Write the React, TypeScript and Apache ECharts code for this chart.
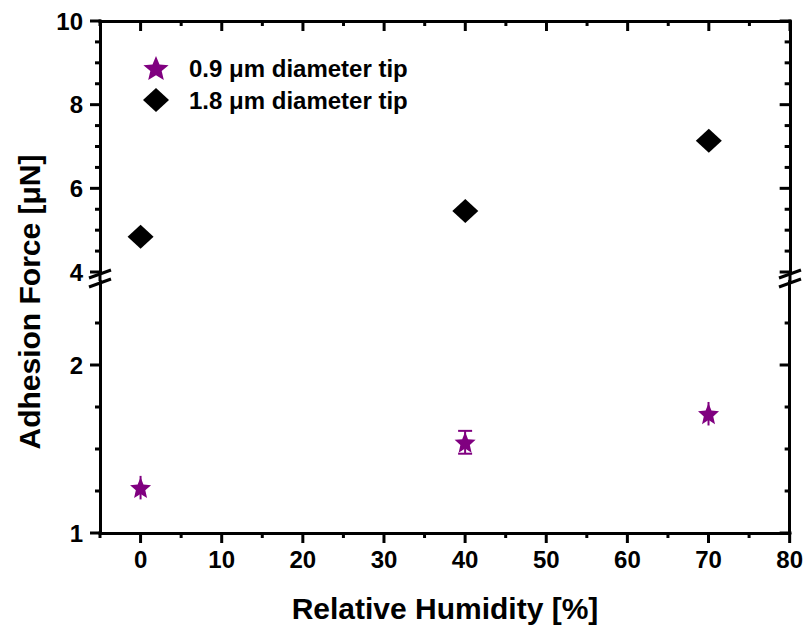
import React, { useEffect, useRef } from "react";
import * as echarts from "echarts";

// ---------- data ----------
const humidity = [0, 40, 70];
const tip09Force = [1.27, 1.54, 1.71];
const tip09Err = [0.07, 0.068, 0.07];
const tip09Capped = [false, true, false];
const tip18Force = [4.84, 5.46, 7.14];

const xMajorTicks = [0, 10, 20, 30, 40, 50, 60, 70, 80];
const xMinorTicks = [-5, 5, 15, 25, 35, 45, 55, 65, 75];
const upperMajorTicks = [4, 6, 8, 10];
const upperMinorTicks = [4.5, 5, 5.5, 6.5, 7, 7.5, 8.5, 9, 9.5];
const lowerMajorTicks = [1, 2];
const lowerMinorTicks = [1.25, 1.5, 1.75, 2.25];

const seriesNames = ["0.9 μm diameter tip", "1.8 μm diameter tip"];
const xTitle = "Relative Humidity [%]";
const yTitle = "Adhesion Force [μN]";

// ---------- styles ----------
const FONT = "'Liberation Sans', Arial, Helvetica, sans-serif";
const PURPLE = "#800080";
const STAR =
  "path://M0,-1L0.2645,-0.364L0.951,-0.309L0.428,0.139L0.588,0.809L0,0.45L-0.588,0.809L-0.428,0.139L-0.951,-0.309L-0.2645,-0.364Z";

const MAJOR_LEN = 10;
const MINOR_LEN = 5;

const label = () => ({
  color: "#000",
  fontFamily: FONT,
  fontWeight: "bold" as const,
  fontSize: 24,
});

const X_RANGE = [-5, 80];
const UPPER_RANGE = [4, 10];
const LOWER_RANGE = [1, 2.5];

function axisDef(
  gridIndex: number,
  position: string,
  range: number[],
  labels: number[] | null,
  margin: number
) {
  return {
    type: "value",
    gridIndex,
    position,
    min: range[0],
    max: range[1],
    axisLine: { show: true, onZero: false, lineStyle: { color: "#000", width: 3 } },
    axisTick: { show: false },
    axisLabel: labels
      ? { show: true, customValues: labels, margin, ...label() }
      : { show: false },
    splitLine: { show: false },
  };
}

const staticGraphic: any[] = [
  // axis line through the break gap
  { id: "gapL", type: "line", shape: { x1: 100, y1: 272, x2: 100, y2: 281 }, style: { stroke: "#000", lineWidth: 3 } },
  { id: "gapR", type: "line", shape: { x1: 790, y1: 272, x2: 790, y2: 281 }, style: { stroke: "#000", lineWidth: 3 } },
  // frame corners
  ...[
    [100, 21],
    [790, 21],
    [100, 533],
    [790, 533],
  ].map(([cx, cy], i) => ({
    id: "corner" + i,
    type: "rect",
    shape: { x: cx - 1.5, y: cy - 1.5, width: 3, height: 3 },
    style: { fill: "#000" },
    z: 10,
  })),
  // break marks
  ...[100, 790].flatMap((cx) =>
    [274, 283].map((y0) => ({
      id: "brk" + cx + "_" + y0,
      type: "line",
      shape: { x1: cx - 11, y1: y0 + 4, x2: cx + 11, y2: y0 - 4 },
      style: { stroke: "#000", lineWidth: 3 },
      z: 10,
    }))
  ),
  {
    id: "ytitle",
    type: "text",
    x: 29,
    y: 302,
    rotation: Math.PI / 2,
    style: {
      text: yTitle,
      fontFamily: FONT,
      fontWeight: "bold",
      fontSize: 30,
      fill: "#000",
      align: "center",
      verticalAlign: "middle",
    },
  },
  {
    id: "xtitle",
    type: "text",
    x: 445,
    y: 608,
    style: {
      text: xTitle,
      fontFamily: FONT,
      fontWeight: "bold",
      fontSize: 30,
      fill: "#000",
      align: "center",
      verticalAlign: "middle",
    },
  },
];

const option: any = {
  animation: false,
  backgroundColor: "#fff",
  grid: [
    { left: 100, right: 16, top: 21, height: 251 },
    { left: 100, right: 16, top: 281, height: 252 },
  ],
  legend: {
    orient: "vertical",
    left: 138,
    top: 51,
    itemWidth: 26,
    itemHeight: 24,
    itemGap: 8,
    data: seriesNames,
    textStyle: { ...label(), padding: [0, 0, 0, 15] },
  },
  xAxis: [
    axisDef(0, "top", X_RANGE, null, 0), // 0 upper grid
    axisDef(1, "bottom", X_RANGE, xMajorTicks, 14), // 1 lower grid
  ],
  yAxis: [
    axisDef(0, "left", UPPER_RANGE, upperMajorTicks, 17), // 0 upper
    axisDef(1, "left", LOWER_RANGE, lowerMajorTicks, 17), // 1 lower
    axisDef(0, "right", UPPER_RANGE, null, 0), // 2
    axisDef(1, "right", LOWER_RANGE, null, 0), // 3
  ],
  series: [
    {
      type: "custom",
      name: "errorbars",
      xAxisIndex: 1,
      yAxisIndex: 1,
      z: 1,
      data: humidity.map((x, i) => [
        x,
        tip09Force[i] - tip09Err[i],
        tip09Force[i] + tip09Err[i],
        tip09Capped[i] ? 1 : 0,
      ]),
      encode: { x: 0, y: [1, 2] },
      renderItem: (_params: any, api: any) => {
        const x = api.value(0);
        const lo = api.coord([x, api.value(1)]);
        const hi = api.coord([x, api.value(2)]);
        const capped = api.value(3);
        const w = 7;
        const children: any[] = [
          {
            type: "line",
            shape: { x1: lo[0], y1: lo[1], x2: hi[0], y2: hi[1] },
            style: { stroke: PURPLE, lineWidth: 2 },
          },
        ];
        if (capped) {
          children.push(
            {
              type: "line",
              shape: { x1: lo[0] - w, y1: lo[1], x2: lo[0] + w, y2: lo[1] },
              style: { stroke: PURPLE, lineWidth: 2 },
            },
            {
              type: "line",
              shape: { x1: hi[0] - w, y1: hi[1], x2: hi[0] + w, y2: hi[1] },
              style: { stroke: PURPLE, lineWidth: 2 },
            }
          );
        }
        return { type: "group", children };
      },
    },
    {
      type: "scatter",
      name: seriesNames[0],
      xAxisIndex: 1,
      yAxisIndex: 1,
      z: 3,
      symbol: STAR,
      symbolKeepAspect: true,
      symbolSize: [21, 22],
      itemStyle: { color: PURPLE, opacity: 1 },
      data: humidity.map((x, i) => [x, tip09Force[i]]),
    },
    {
      type: "scatter",
      name: seriesNames[1],
      xAxisIndex: 0,
      yAxisIndex: 0,
      z: 3,
      symbol: "diamond",
      symbolSize: [26, 24],
      itemStyle: { color: "#000", opacity: 1 },
      data: humidity.map((x, i) => [x, tip18Force[i]]),
    },
  ],
  graphic: staticGraphic,
};

// Tick marks placed through the axes' own scales (convertToPixel).
function buildTicks(chart: echarts.ECharts): any[] {
  const px = (finder: any, v: number) => {
    const r = chart.convertToPixel(finder, v) as any;
    return typeof r === "number" ? r : Number(r);
  };
  const els: any[] = [];
  const seg = (x1: number, y1: number, x2: number, y2: number) => {
    if ([x1, y1, x2, y2].some((n) => !isFinite(n))) return;
    els.push({
      id: "tick" + els.length,
      type: "line",
      shape: { x1, y1, x2, y2 },
      style: { stroke: "#000", lineWidth: 3 },
      z: 10,
    });
  };

  const left = px({ xAxisIndex: 1 }, X_RANGE[0]);
  const right = px({ xAxisIndex: 1 }, X_RANGE[1]);
  const top = px({ yAxisIndex: 0 }, UPPER_RANGE[1]);
  const bottom = px({ yAxisIndex: 1 }, LOWER_RANGE[0]);

  // x ticks: bottom (outward) and top mirror (inward)
  const xTicks: [number[], number][] = [
    [xMajorTicks, MAJOR_LEN],
    [xMinorTicks, MINOR_LEN],
  ];
  xTicks.forEach(([vals, len]) =>
    vals.forEach((v) => {
      const xb = px({ xAxisIndex: 1 }, v);
      seg(xb, bottom, xb, bottom + len);
      const xt = px({ xAxisIndex: 0 }, v);
      seg(xt, top, xt, top + len);
    })
  );

  // y ticks: left (outward) and right mirror (inward)
  const yTicks: [number, number[], number][] = [
    [0, upperMajorTicks, MAJOR_LEN],
    [0, upperMinorTicks, MINOR_LEN],
    [1, lowerMajorTicks, MAJOR_LEN],
    [1, lowerMinorTicks, MINOR_LEN],
  ];
  yTicks.forEach(([axisIdx, vals, len]) =>
    vals.forEach((v) => {
      const y = px({ yAxisIndex: axisIdx }, v);
      seg(left, y, left - len, y);
      seg(right, y, right - len, y);
    })
  );
  return els;
}

export default function App() {
  const ref = useRef<HTMLDivElement>(null);
  useEffect(() => {
    const chart = echarts.init(ref.current!, null, { renderer: "svg" });
    chart.setOption(option);
    let ticks: any[] = [];
    try {
      ticks = buildTicks(chart);
    } catch (e) {
      ticks = [];
    }
    chart.setOption({ graphic: [...staticGraphic, ...ticks] });
    return () => chart.dispose();
  }, []);
  return (
    <div
      ref={ref}
      style={{ position: "fixed", left: 0, top: 0, width: 806, height: 628, background: "#fff" }}
    />
  );
}
